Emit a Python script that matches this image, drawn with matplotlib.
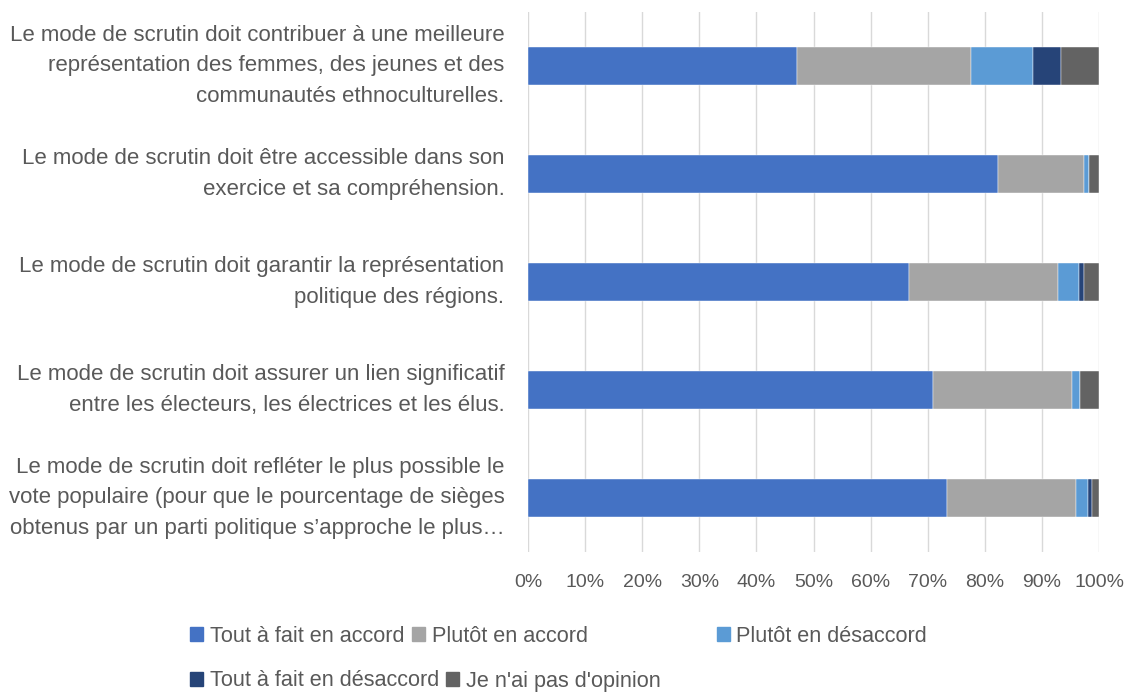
import matplotlib.pyplot as plt
import matplotlib.patches as mpatches
import numpy as np

plt.rcParams['font.family'] = ['Liberation Sans', 'DejaVu Sans']

# statements, top to bottom
labels = [
    "Le mode de scrutin doit contribuer à une meilleure\nreprésentation des femmes, des jeunes et des\ncommunautés ethnoculturelles.",
    "Le mode de scrutin doit être accessible dans son\nexercice et sa compréhension.",
    "Le mode de scrutin doit garantir la représentation\npolitique des régions.",
    "Le mode de scrutin doit assurer un lien significatif\nentre les électeurs, les électrices et les élus.",
    "Le mode de scrutin doit refléter le plus possible le\nvote populaire (pour que le pourcentage de sièges\nobtenus par un parti politique s’approche le plus…",
]
series = ["Tout à fait en accord", "Plutôt en accord", "Plutôt en désaccord",
          "Tout à fait en désaccord", "Je n'ai pas d'opinion"]
tout_accord = [47.1, 82.3, 66.8, 70.9, 73.4]
plutot_accord = [30.4, 15.1, 26.0, 24.3, 22.6]
plutot_desaccord = [10.9, 0.9, 3.7, 1.4, 2.1]
tout_desaccord = [5.0, 0.0, 0.9, 0.0, 0.6]
sans_opinion = [6.6, 1.7, 2.6, 3.4, 1.3]
colors = ["#4472C4", "#A5A5A5", "#5B9BD5", "#264478", "#636363"]

W, H = 1134, 693
fig = plt.figure(figsize=(W / 100, H / 100), dpi=100)
ax = fig.add_axes([528 / W, 1 - 552 / H, 571 / W, 540 / H])

y = np.arange(len(labels))
left = np.zeros(len(labels))
for vals, c in zip([tout_accord, plutot_accord, plutot_desaccord, tout_desaccord, sans_opinion], colors):
    ax.barh(y, vals, left=left, height=0.35, color=c, edgecolor="white", linewidth=0.3, zorder=3)
    left += np.array(vals)

ax.set_ylim(len(labels) - 0.5, -0.5)
ax.set_xlim(0, 100)
ax.set_xticks(np.arange(0, 101, 10))
ax.set_xticklabels([f"{t}%" for t in range(0, 101, 10)])
ax.set_yticks(y)
ax.set_yticklabels(labels)
for t in ax.get_yticklabels():
    t.set_linespacing(1.62)
    t.set_verticalalignment("center")
ax.xaxis.grid(True, color="#d9d9d9", linewidth=1)
ax.set_axisbelow(True)
for s in ax.spines.values():
    s.set_visible(False)
ax.tick_params(axis="x", length=0, labelsize=14, labelcolor="#595959", pad=16)
ax.tick_params(axis="y", length=0, labelsize=16, labelcolor="#595959", pad=17)

# legend laid out like the original (two rows, uneven spacing)
leg_pos = [(190, 636), (412, 636), (717, 636), (190, 681), (446, 681)]
for name, c, (px, py) in zip(series, colors, leg_pos):
    h = mpatches.Patch(color=c)
    lg = fig.legend([h], [name], loc="center left", bbox_to_anchor=(px / W, 1 - py / H),
                    frameon=False, fontsize=15.6, handlelength=0.6, handleheight=0.6,
                    handletextpad=0.3, borderpad=0, borderaxespad=0)
    for t in lg.get_texts():
        t.set_color("#595959")

fig.savefig("out.png", dpi=100)
plt.close(fig)
